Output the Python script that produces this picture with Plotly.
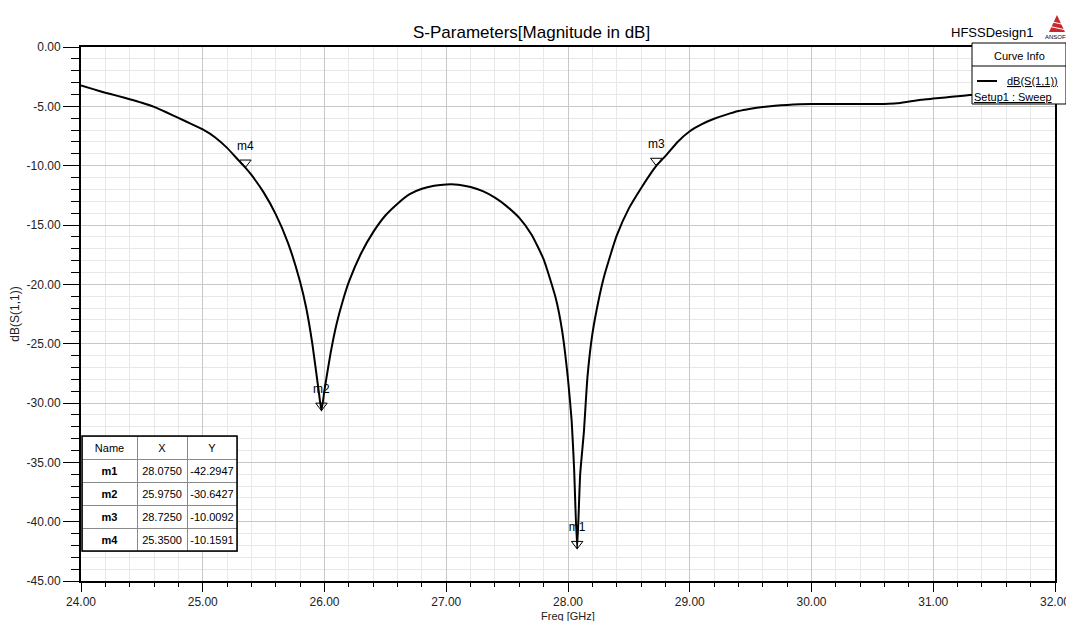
import plotly.graph_objects as go

# ---------------- data ----------------
freq = [24.00, 24.10, 24.20, 24.30, 24.40, 24.50, 24.60, 24.70, 24.80, 24.90,
        25.00, 25.10, 25.20, 25.30, 25.35, 25.40, 25.50, 25.60, 25.70, 25.80,
        25.85, 25.90, 25.95, 25.975, 26.00, 26.05, 26.10, 26.15, 26.20, 26.30,
        26.40, 26.50, 26.60, 26.70, 26.80, 26.90, 27.00, 27.10, 27.20, 27.30,
        27.40, 27.50, 27.60, 27.70, 27.80, 27.90, 27.95, 28.00, 28.03, 28.05,
        28.075, 28.10, 28.13, 28.16, 28.20, 28.25, 28.30, 28.40, 28.50, 28.60,
        28.70, 28.725, 28.80, 28.90, 29.00, 29.10, 29.20, 29.30, 29.40, 29.50,
        29.60, 29.70, 29.80, 29.90, 30.00, 30.20, 30.40, 30.60, 30.70, 30.80,
        30.90, 31.00, 31.10, 31.20, 31.30, 31.40, 31.50, 31.60, 31.70, 31.80,
        31.90, 32.00]
s11_db = [-3.25, -3.55, -3.85, -4.12, -4.40, -4.70, -5.05, -5.50, -5.98, -6.45,
          -6.95, -7.60, -8.50, -9.62, -10.16, -10.78, -12.25, -14.10, -16.50, -19.80,
          -22.00, -25.00, -28.80, -30.64, -28.90, -25.80, -23.30, -21.40, -19.80, -17.40,
          -15.60, -14.20, -13.20, -12.40, -11.95, -11.70, -11.58, -11.60, -11.80, -12.15,
          -12.70, -13.45, -14.40, -15.80, -17.90, -21.20, -23.80, -28.00, -31.50, -35.50,
          -42.29, -36.00, -32.50, -27.80, -24.20, -21.40, -19.20, -15.90, -13.60, -11.90,
          -10.35, -10.01, -9.20, -8.00, -7.10, -6.50, -6.05, -5.70, -5.40, -5.20,
          -5.05, -4.95, -4.88, -4.82, -4.80, -4.80, -4.80, -4.80, -4.75, -4.60,
          -4.45, -4.35, -4.25, -4.15, -4.05, -3.98, -3.92, -3.88, -3.85, -3.80,
          -3.70, -3.55]

marker_names = ["m1", "m2", "m3", "m4"]
marker_x = [28.0750, 25.9750, 28.7250, 25.3500]
marker_y = [-42.2947, -30.6427, -10.0092, -10.1591]

x_ticks = [24, 25, 26, 27, 28, 29, 30, 31, 32]
x_ticktext = ["24.00", "25.00", "26.00", "27.00", "28.00", "29.00", "30.00", "31.00", "32.00"]
y_ticks = [0, -5, -10, -15, -20, -25, -30, -35, -40, -45]
y_ticktext = ["0.00", "-5.00", "-10.00", "-15.00", "-20.00", "-25.00", "-30.00", "-35.00", "-40.00", "-45.00"]

# ---------------- layout helpers ----------------
# page is shown with the browser's 8px body margin
OFF = 8
W, H = 1074 - OFF, 621 - OFF
PL, PR, PT, PB = 81, 1055, 47, 581          # plot area in page pixels
ML, MT = PL - OFF, PT - OFF
MR, MB = W - (PR - OFF), H - (PB - OFF)
PW, PH = PR - PL, PB - PT


def px_x(p):
    return (p - PL) / PW


def px_y(p):
    return (PB - p) / PH


FONT = "Liberation Sans, Arial, sans-serif"


def label(text, x, y, size=11, xanchor="center", color="black"):
    return dict(text=text, xref="paper", yref="paper", x=px_x(x), y=px_y(y),
                xanchor=xanchor, yanchor="middle", showarrow=False,
                font=dict(family=FONT, size=size, color=color))


fig = go.Figure()

fig.add_trace(go.Scatter(
    x=freq, y=s11_db, mode="lines",
    line=dict(color="black", width=2, shape="spline", smoothing=0.5),
    name="dB(S(1,1))", showlegend=False, hoverinfo="x+y",
))

# marker triangles (pointing down, sitting just above the data point)
fig.add_trace(go.Scatter(
    x=marker_x, y=marker_y, mode="markers",
    marker=dict(symbol="triangle-up-open", angle=180, size=10, color="black",
                line=dict(width=1), standoff=5),
    showlegend=False, hoverinfo="skip",
))
# marker labels
fig.add_trace(go.Scatter(
    x=marker_x, y=marker_y, mode="markers+text",
    marker=dict(size=22, color="rgba(0,0,0,0)"),
    text=marker_names, textposition="top center",
    textfont=dict(family=FONT, size=12, color="black"),
    showlegend=False, hoverinfo="skip",
))

fig.add_trace(go.Table(
    domain=dict(x=[px_x(82), px_x(237)], y=[px_y(560), px_y(436)]),
    columnwidth=[55, 50, 50],
    header=dict(
        values=["Name", "X", "Y"],
        fill_color="white", line=dict(color="#8a8a8a", width=1),
        font=dict(family=FONT, size=11, color="black"), height=23, align="center",
    ),
    cells=dict(
        values=[marker_names,
                [f"{v:.4f}" for v in marker_x],
                [f"{v:.4f}" for v in marker_y]],
        fill_color="white", line=dict(color="#8a8a8a", width=1),
        font=dict(family=FONT, size=11, color="black", weight=["bold", "normal", "normal"]),
        height=23, align="center",
    ),
))

axis_common = dict(
    showline=True, linecolor="black", linewidth=2, mirror=True,
    ticks="outside", tickcolor="black", tickwidth=1,
    showgrid=True, gridcolor="#c8c8c8", gridwidth=1, zeroline=False,
    tickfont=dict(family=FONT, size=12, color="#222"), automargin=False,
)

fig.update_xaxes(
    range=[24, 32], tickvals=x_ticks, ticktext=x_ticktext, ticklen=9,
    minor=dict(dtick=0.2, ticklen=4, tickcolor="black", ticks="outside",
               showgrid=True, gridcolor="#e8e8e8"),
    **axis_common,
)
fig.update_yaxes(
    range=[-45, 0], tickvals=y_ticks, ticktext=y_ticktext, ticklen=16,
    minor=dict(dtick=1, ticklen=8, tickcolor="black", ticks="outside",
               showgrid=True, gridcolor="#e8e8e8"),
    title=dict(text="dB(S(1,1))", font=dict(family=FONT, size=12, color="#222"), standoff=4),
    **axis_common,
)

shapes = []
annotations = []

# x-axis title
annotations.append(label("Freq [GHz]", 568, 616, size=11, color="#222"))

# table border
shapes.append(dict(type="rect", xref="paper", yref="paper",
                   x0=px_x(82), x1=px_x(237), y0=px_y(551), y1=px_y(436),
                   line=dict(color="black", width=1.5)))

# Curve info box
shapes.append(dict(type="rect", xref="paper", yref="paper",
                   x0=px_x(972), x1=px_x(1066), y0=px_y(104), y1=px_y(43),
                   fillcolor="white", line=dict(color="black", width=1), layer="above"))
shapes.append(dict(type="line", xref="paper", yref="paper",
                   x0=px_x(972), x1=px_x(1066), y0=px_y(66), y1=px_y(66),
                   line=dict(color="black", width=1), layer="above"))
shapes.append(dict(type="line", xref="paper", yref="paper",
                   x0=px_x(977), x1=px_x(997), y0=px_y(81), y1=px_y(81),
                   line=dict(color="black", width=2), layer="above"))
annotations.append(label("Curve Info", 1019, 56))
annotations.append(label("<u>dB(S(1,1))</u>", 1060, 81, xanchor="right"))
annotations.append(label("<u>Setup1 : Sweep</u>", 972, 97, xanchor="left"))

# Header texts
annotations.append(label("S-Parameters[Magnitude in dB]", 531, 32, size=17))
annotations.append(label("HFSSDesign1", 992, 32, size=13))
# ANSOFT logo
shapes.append(dict(type="path", xref="paper", yref="paper",
                   path=(f"M {px_x(1049)} {px_y(32)} L {px_x(1065)} {px_y(32)} "
                         f"L {px_x(1057)} {px_y(15)} Z"),
                   fillcolor="#c8282d", line=dict(width=0)))
for yy in (21, 26):
    shapes.append(dict(type="line", xref="paper", yref="paper",
                       x0=px_x(1048), x1=px_x(1066), y0=px_y(yy), y1=px_y(yy + 4),
                       line=dict(color="white", width=1)))
annotations.append(label("ANSOFT", 1057, 37, size=6))

fig.update_layout(
    width=W, height=H,
    margin=dict(l=ML, r=MR, t=MT, b=MB, autoexpand=False),
    paper_bgcolor="white", plot_bgcolor="white",
    shapes=shapes, annotations=annotations,
    showlegend=False,
)

fig.write_html("out.html")
